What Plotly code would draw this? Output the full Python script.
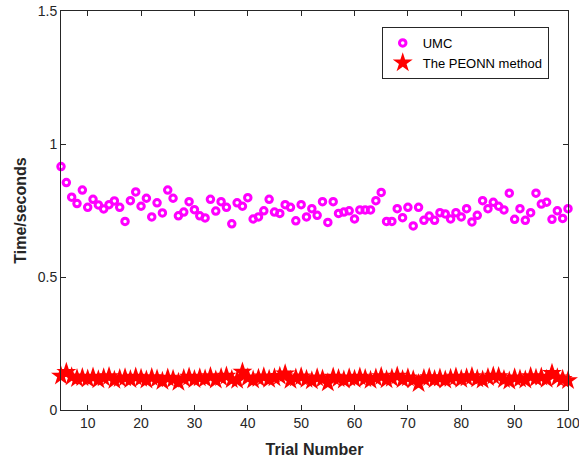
import plotly.graph_objects as go

# Trial numbers 5..100
trials = list(range(5, 101))

# Running time of UMC per trial (seconds)
umc_time = [
    0.915, 0.855, 0.800, 0.776, 0.827, 0.762, 0.792, 0.771, 0.756, 0.772,
    0.786, 0.762, 0.709, 0.787, 0.820, 0.766, 0.796, 0.726, 0.779, 0.741,
    0.827, 0.796, 0.730, 0.744, 0.783, 0.753, 0.730, 0.722, 0.792, 0.748,
    0.783, 0.762, 0.700, 0.779, 0.766, 0.798, 0.718, 0.726, 0.749, 0.792,
    0.744, 0.739, 0.772, 0.762, 0.711, 0.772, 0.726, 0.757, 0.732, 0.783,
    0.705, 0.783, 0.739, 0.744, 0.749, 0.718, 0.752, 0.752, 0.752, 0.787,
    0.818, 0.709, 0.709, 0.757, 0.723, 0.762, 0.692, 0.762, 0.713, 0.729,
    0.713, 0.742, 0.737, 0.718, 0.742, 0.726, 0.757, 0.707, 0.732, 0.787,
    0.757, 0.781, 0.766, 0.752, 0.815, 0.717, 0.757, 0.713, 0.742, 0.815,
    0.774, 0.781, 0.717, 0.749, 0.720, 0.757,
]

# Running time of the PEONN method per trial (seconds)
peonn_time = [
    0.128, 0.142, 0.125, 0.118, 0.122, 0.117, 0.124, 0.114, 0.121, 0.126,
    0.112, 0.118, 0.121, 0.115, 0.124, 0.119, 0.113, 0.122, 0.117, 0.108,
    0.120, 0.116, 0.104, 0.118, 0.124, 0.115, 0.121, 0.117, 0.126, 0.113,
    0.122, 0.128, 0.115, 0.112, 0.143, 0.121, 0.113, 0.119, 0.125, 0.116,
    0.121, 0.127, 0.136, 0.112, 0.120, 0.125, 0.116, 0.110, 0.121, 0.117,
    0.102, 0.124, 0.118, 0.113, 0.121, 0.116, 0.124, 0.118, 0.112, 0.120,
    0.126, 0.114, 0.119, 0.128, 0.115, 0.121, 0.114, 0.100, 0.118, 0.122,
    0.115, 0.120, 0.113, 0.119, 0.124, 0.116, 0.121, 0.126, 0.117, 0.113,
    0.122, 0.128, 0.126, 0.115, 0.109, 0.121, 0.117, 0.113, 0.126, 0.119,
    0.124, 0.116, 0.138, 0.121, 0.116, 0.111,
]

x_ticks = [10, 20, 30, 40, 50, 60, 70, 80, 90, 100]
y_ticks = [0, 0.5, 1, 1.5]
y_tick_text = ["0", "0.5", "1", "1.5"]

axis_color = "#262626"
font_family = "Liberation Sans, Arial, sans-serif"

fig = go.Figure()

fig.add_trace(go.Scatter(
    x=trials, y=umc_time, mode="markers", name="UMC",
    cliponaxis=False,
    marker=dict(symbol="circle-open", size=6.5, color="#FF00FF",
                line=dict(color="#FF00FF", width=3)),
))

fig.add_trace(go.Scatter(
    x=trials, y=peonn_time, mode="markers", name="The PEONN method",
    cliponaxis=False,
    marker=dict(symbol="star", size=15, color="#FF0000",
                line=dict(width=0)),
))

axis_common = dict(
    showgrid=False, zeroline=False, showline=True, linecolor=axis_color,
    linewidth=1, mirror="allticks", ticks="inside", ticklen=5,
    tickcolor=axis_color, automargin=False, ticklabeloverflow="allow",
    tickfont=dict(size=14, color=axis_color, family=font_family),
)

fig.update_xaxes(
    range=[5, 100], tickvals=x_ticks,
    title=dict(text="<b>Trial Number</b>", standoff=14,
               font=dict(size=16, color=axis_color, family=font_family)),
    **axis_common,
)
fig.update_yaxes(
    range=[0, 1.5], tickvals=y_ticks, ticktext=y_tick_text,
    title=dict(text="<b>Time/seconds</b>", standoff=7,
               font=dict(size=16, color=axis_color, family=font_family)),
    **axis_common,
)

fig.update_layout(
    width=579, height=460,
    margin=dict(l=61, r=11, t=11, b=50),
    paper_bgcolor="white", plot_bgcolor="white",
    font=dict(family=font_family, color=axis_color),
    legend=dict(
        x=0.962, y=0.96, xanchor="right", yanchor="top",
        bgcolor="white", bordercolor=axis_color, borderwidth=1,
        font=dict(size=13, color="#000000", family=font_family),
        tracegroupgap=0,
    ),
)

fig.write_html("out.html")
